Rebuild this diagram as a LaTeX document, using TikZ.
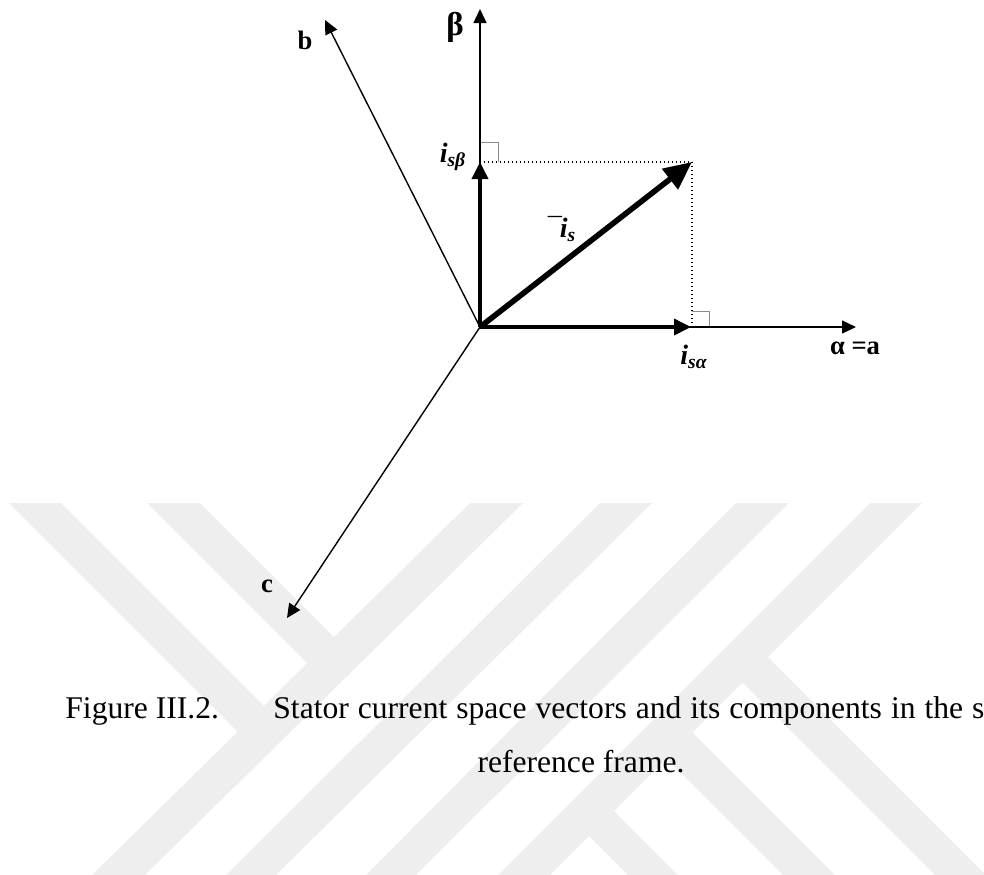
\documentclass[tikz,border=0pt]{standalone}
\usepackage{fontspec}
\setmainfont{Liberation Serif}
\usetikzlibrary{arrows.meta}
\definecolor{wm}{RGB}{238,238,238}
\definecolor{markgray}{RGB}{140,140,140}
\begin{document}
\begin{tikzpicture}[x=0.5pt,y=-0.5pt,
  axisarrow/.style={line width=0.7pt,-{Triangle[length=7pt,width=6.5pt]}},
  comparrow/.style={line width=1.8pt,-{Triangle[length=8.5pt,width=8pt]}},
  mainarrow/.style={line width=2.8pt,-{Triangle[length=14pt,width=12.5pt]}},
  proj/.style={line width=0.6pt,dash pattern=on 0.6pt off 1.4pt},
  rightmark/.style={line width=0.5pt,draw=markgray},
  lbl/.style={font=\fontsize{13.3}{15}\selectfont\bfseries, inner sep=0pt},
  biglbl/.style={font=\fontsize{16.5}{18}\selectfont\bfseries, inner sep=0pt},
  ilbl/.style={font=\fontsize{14}{16}\selectfont\bfseries\itshape, inner sep=0pt},
  captext/.style={font=\fontsize{15.8}{19}\selectfont, inner sep=0pt},
  wmark/.style={fill=wm, draw=none}]
\useasboundingbox (0,0) rectangle (984,874);
\begin{scope}
\clip (0,0) rectangle (984,874);
% watermark
\fill[wmark] (9,503) -- (61,503) -- (274,716) -- (248,742) -- cycle;
\fill[wmark] (147,503) -- (200,503) -- (343.5,646.5) -- (317,673) -- cycle;
\fill[wmark] (470,503) -- (523,503) -- (140,880) -- (87,880) -- cycle;
\fill[wmark] (600,503) -- (652,503) -- (271,880) -- (221,880) -- cycle;
\fill[wmark] (736,503) -- (789,503) -- (411,880) -- (361,880) -- cycle;
\fill[wmark] (870,503) -- (922,503) -- (545,880) -- (493,880) -- cycle;
\fill[wmark] (755.5,644.5) -- (1111,1000) -- (1060,1000) -- (730,670) -- cycle;
\fill[wmark] (680,720) -- (960,1000) -- (908,1000) -- (654,746) -- cycle;
\fill[wmark] (601.5,798.5) -- (803,1000) -- (753,1000) -- (576.5,823.5) -- cycle;

% points
\coordinate (O) at (480,327);
\coordinate (betatip) at (480,9);
\coordinate (btip) at (325,20);
\coordinate (ctip) at (287,618);
\coordinate (alphatip) at (856,327);
\coordinate (isa) at (691,327);
\coordinate (isb) at (480,162);
\coordinate (is) at (692,162);
\coordinate (isfoot) at (692,327);
\coordinate (ra1) at (480,142);
\coordinate (ra2) at (498,142);
\coordinate (ra3) at (498,162);
\coordinate (rb1) at (692,311);
\coordinate (rb2) at (709,311);
\coordinate (rb3) at (709,327);

% projections and right-angle marks
\draw[proj] (isb) -- (is);
\draw[proj] (is) -- (isfoot);
\draw[rightmark] (ra1) -- (ra2) -- (ra3);
\draw[rightmark] (rb1) -- (rb2) -- (rb3);

% axes
\draw[axisarrow] (O) -- (betatip);
\draw[axisarrow] (O) -- (btip);
\draw[axisarrow] (O) -- (ctip);
\draw[axisarrow] (O) -- (alphatip);

% vectors
\draw[comparrow] (O) -- (isa);
\draw[comparrow] (O) -- (isb);
\draw[mainarrow] (O) -- (is);

% labels
\node[biglbl] (lbeta) at (455,27) {β};
\node[lbl] (lb) at (305,40) {b};
\node[lbl] (lc) at (267,586) {c};
\node[lbl] (lalpha) at (855,348) {α =a};
\node[ilbl] (lisb) at (453,157) {i\textsubscript{sβ}};
\node[ilbl] (lisa) at (694,357) {i\textsubscript{sα}};
\node[ilbl] (lis) at (561,229) {¯i\textsubscript{s}};

% caption
\node[captext, anchor=base west] (capfig) at (65,718) {Figure III.2.};
\node[captext, anchor=base west] (captxt) at (273,718) {\spaceskip=4.5pt Stator current space vectors and its components in the s};
\node[captext, anchor=base] (capline) at (581,772) {reference frame.};
\end{scope}
\end{tikzpicture}
\end{document}
